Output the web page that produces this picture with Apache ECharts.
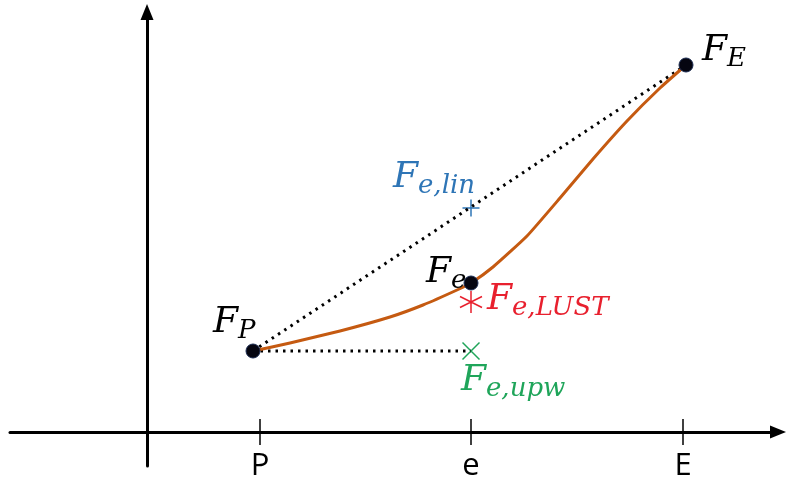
<!DOCTYPE html>
<html>
<head>
<meta charset="utf-8">
<script src="https://cdn.jsdelivr.net/npm/echarts@6/dist/echarts.min.js"></script>
<style>
  html, body { margin: 0; padding: 0; background: #fff; }
  #chart { width: 787px; height: 484px; }
</style>
</head>
<body>
<div id="chart"></div>
<script>
// axis ticks (x units: pixel offsets from the vertical axis)
const xTicks = [113, 324, 536]
const xTickLabels = ['P', 'e', 'E']

// the curve F(x)
const curveX = [106, 143, 193, 243, 276, 310, 324, 346, 380, 413, 446, 480, 513, 539]
const curveY = [81, 89, 101, 115, 127, 142, 149, 165, 196, 234, 273, 311, 344, 367]

// key points F_P, F_e, F_E
const dotX = [106, 324, 539]
const dotY = [81, 149, 367]

// estimates at e
const linPoint = [324, 224]
const lustPoint = [324, 130]
const upwPoint = [324, 81]

const chart = echarts.init(document.getElementById('chart'))

const SERIF = 'DejaVu Serif'
const rich = (color) => ({
  f: { fontFamily: SERIF, fontStyle: 'italic', fontSize: 36, color: color, lineHeight: 46 },
  s: { fontFamily: SERIF, fontStyle: 'italic', fontSize: 26, color: color, lineHeight: 46, padding: [16, 0, 0, 0] },
})
const mathLabel = (sub, color, offset) => ({
  show: true,
  position: 'inside',
  align: 'left',
  verticalAlign: 'middle',
  offset: offset,
  opacity: 1,
  textBorderWidth: 0,
  formatter: '{f|F}{s|' + sub + '}',
  rich: rich(color),
})

const dotNames = ['P', 'e', 'E']
const dotOffsets = [[-40, -28], [-45, -10], [16, -14]]

let option = {
  animation: false,
  grid: { left: 10, right: 9, top: 12, bottom: 18, outerBoundsMode: 'none' },
  xAxis: {
    type: 'value',
    min: -137,
    max: 631,
    axisLine: {
      onZero: true,
      symbol: ['none', 'triangle'],
      symbolSize: [13, 16],
      lineStyle: { color: '#000', width: 3 },
    },
    axisTick: { show: false },
    splitLine: { show: false },
    axisLabel: { show: false },
  },
  yAxis: {
    type: 'value',
    min: -34,
    max: 420,
    axisLine: {
      show: true,
      onZero: true,
      symbol: ['none', 'triangle'],
      symbolSize: [13, 16],
      lineStyle: { color: '#000', width: 3 },
    },
    axisTick: { show: false },
    axisLabel: { show: false },
    splitLine: { show: false },
  },
  series: [
    {
      // tick marks across the x axis, with their names
      type: 'scatter',
      data: xTicks.map((x) => [x, 0]),
      symbol: 'rect',
      symbolSize: [1.5, 26],
      itemStyle: { color: '#000', opacity: 1 },
      silent: true,
      label: {
        show: true,
        position: 'bottom',
        distance: 6,
        formatter: (p) => xTickLabels[p.dataIndex],
        fontFamily: 'Open Sans',
        fontSize: 31,
        color: '#000',
      },
    },
    {
      type: 'line',
      data: [[dotX[0], dotY[0]], [dotX[2], dotY[2]]],
      symbol: 'none',
      lineStyle: { color: '#000', width: 3, type: [2.5, 5] },
    },
    {
      type: 'line',
      data: [[dotX[0], dotY[0]], upwPoint],
      symbol: 'none',
      lineStyle: { color: '#000', width: 3, type: [2.5, 5] },
    },
    {
      type: 'line',
      data: curveX.map((x, i) => [x, curveY[i]]),
      smooth: 0.15,
      symbol: 'none',
      lineStyle: { color: '#C55A11', width: 3, join: 'round' },
    },
    {
      type: 'scatter',
      data: [linPoint],
      symbol: 'path://M0,-1L0,1M-1,0L1,0',
      symbolSize: 17,
      itemStyle: { color: 'none', borderColor: '#2E75B6', borderWidth: 1.5, opacity: 1 },
      label: mathLabel('e,lin', '#2E75B6', [-78, -30]),
    },
    {
      type: 'scatter',
      data: [lustPoint],
      symbol: 'path://M0,-1L0,1M-0.87,-0.5L0.87,0.5M-0.87,0.5L0.87,-0.5',
      symbolSize: 22,
      itemStyle: { color: 'none', borderColor: '#E8202E', borderWidth: 1.5, opacity: 1 },
      label: mathLabel('e,LUST', '#E8202E', [16, -2]),
    },
    {
      type: 'scatter',
      data: [upwPoint],
      symbol: 'path://M-1,-1L1,1M-1,1L1,-1',
      symbolSize: 17,
      itemStyle: { color: 'none', borderColor: '#1FA55A', borderWidth: 1.5, opacity: 1 },
      label: mathLabel('e,upw', '#1FA55A', [-10, 30]),
    },
    {
      type: 'scatter',
      data: dotX.map((x, i) => ({
        value: [x, dotY[i]],
        label: mathLabel(dotNames[i], '#000', dotOffsets[i]),
      })),
      symbol: 'circle',
      symbolSize: 14,
      itemStyle: { color: '#050510', borderColor: '#1a2a50', borderWidth: 1, opacity: 1 },
      z: 5,
    },
  ],
}
chart.setOption(option)
</script>
</body>
</html>
